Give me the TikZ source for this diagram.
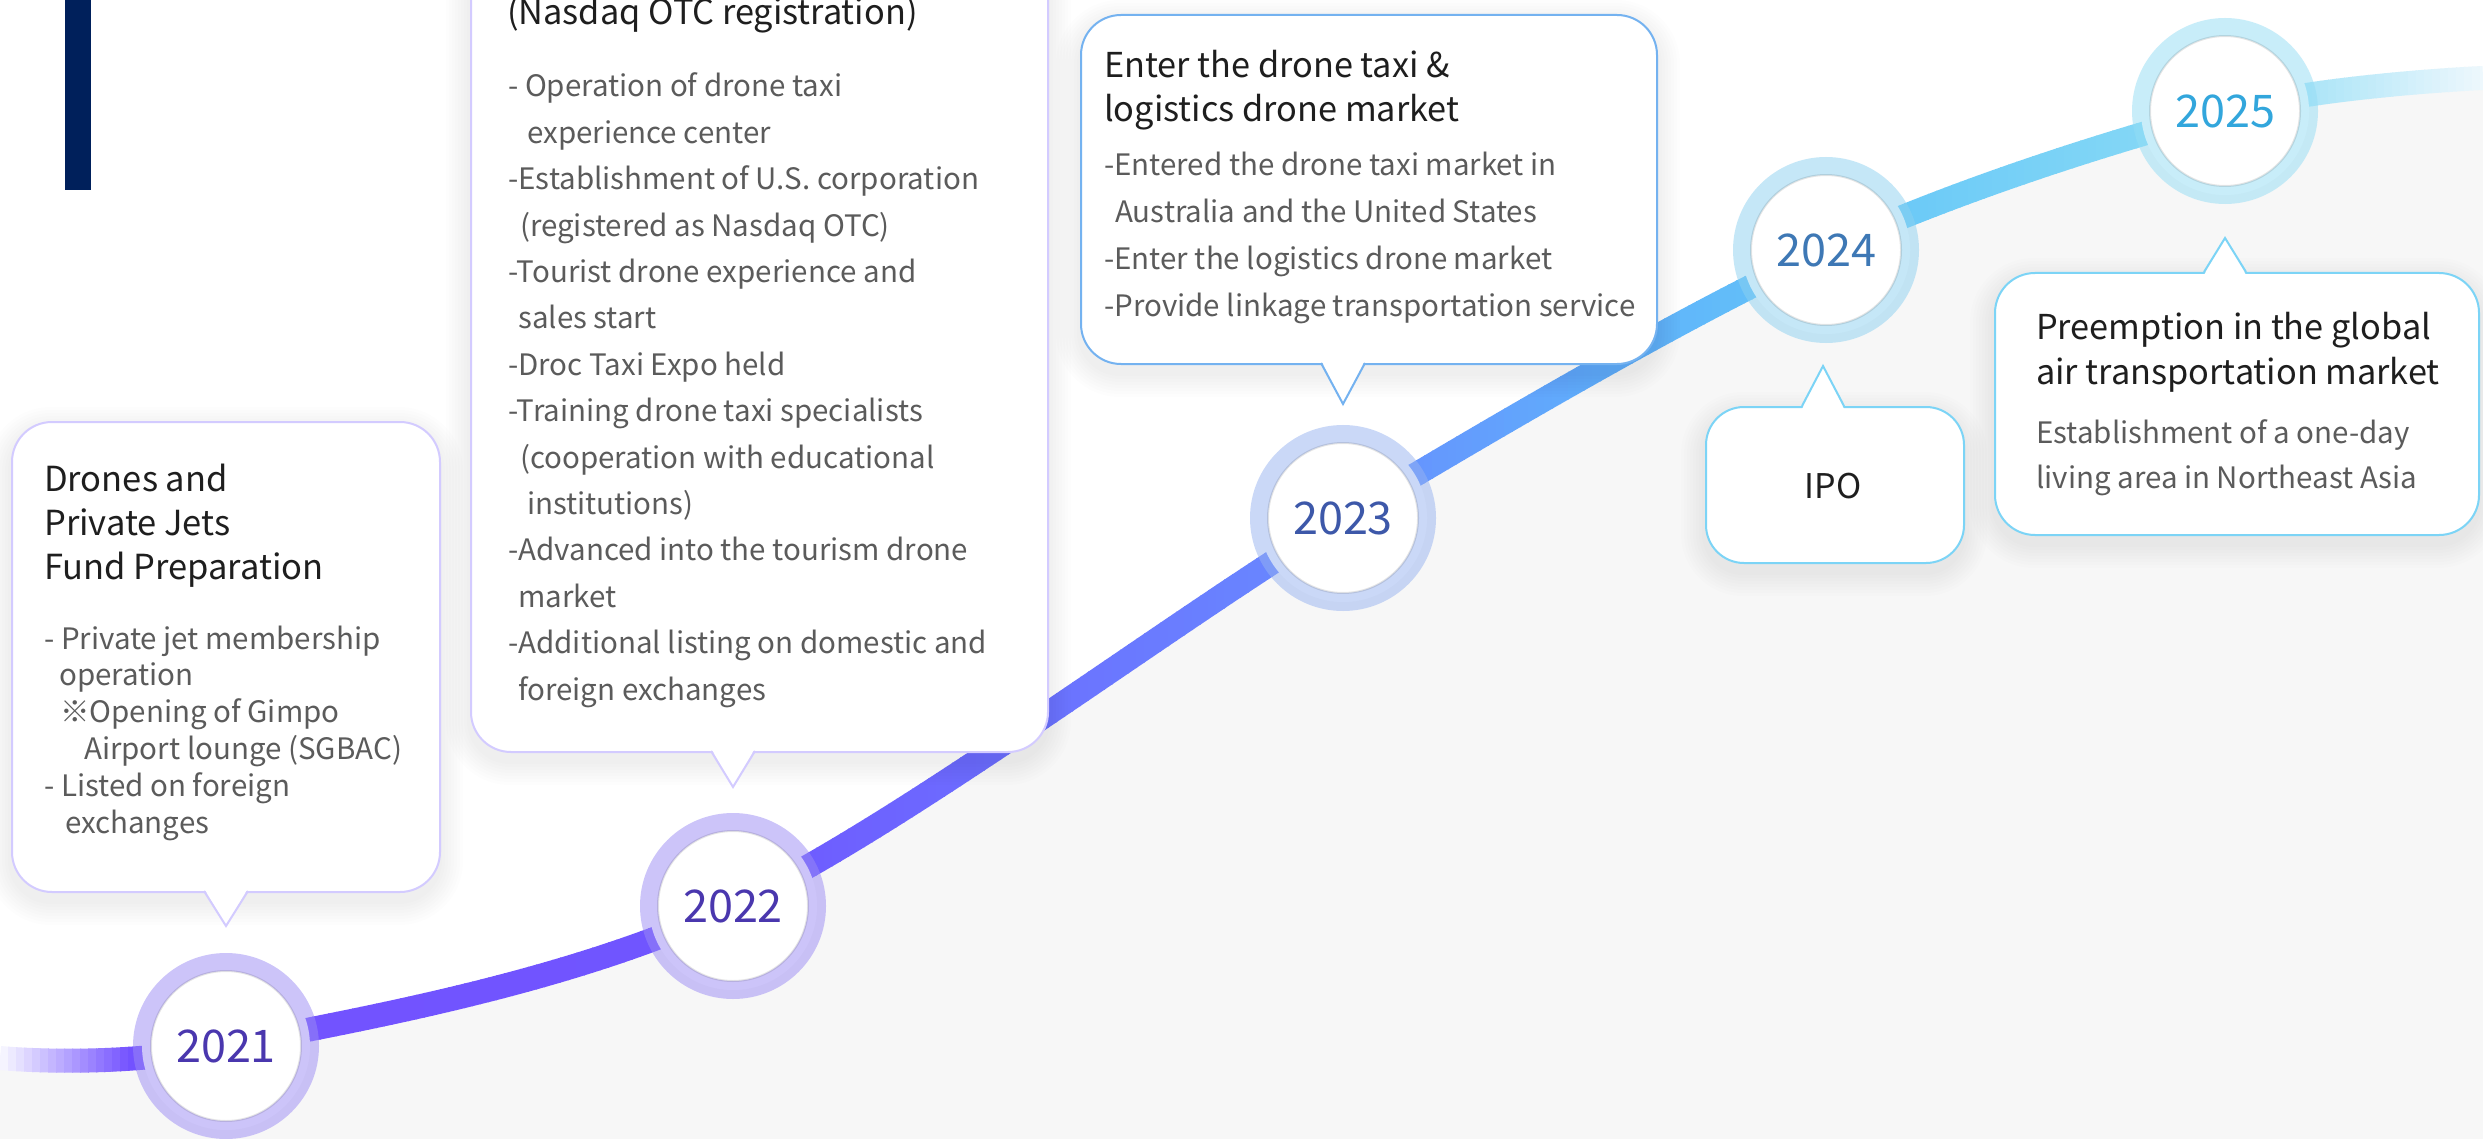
\documentclass[tikz,border=0pt]{standalone}
\usepackage{fontspec}
\setmainfont{Noto Sans CJK KR}
\definecolor{bggray}{HTML}{F7F7F7}
\definecolor{navy}{HTML}{00205B}
\definecolor{titlec}{HTML}{1E1E1E}
\definecolor{bodyc}{HTML}{5B5B5B}
\definecolor{bdA}{HTML}{D3CBFF}
\definecolor{bdB}{HTML}{74B2F0}
\definecolor{bdC}{HTML}{7CD4F6}
\definecolor{rgA}{RGB}{155,139,245}
\definecolor{rgB}{RGB}{151,179,241}
\definecolor{rgC}{RGB}{141,209,241}
\definecolor{rgD}{RGB}{147,221,245}
\definecolor{ytA}{HTML}{4A37AE}
\definecolor{ytB}{HTML}{3D58A9}
\definecolor{ytC}{HTML}{3E78B5}
\definecolor{ytD}{HTML}{32A6DC}
\definecolor{cc}{RGB}{116,82,255}
\newcommand\qqmix[8]{%
  \pgfmathsetmacro\qqt{(\qqx-#1)/(#2-#1)}%
  \pgfmathtruncatemacro\qqr{max(0,min(255,#3+(#6-#3)*\qqt))}%
  \pgfmathtruncatemacro\qqg{max(0,min(255,#4+(#7-#4)*\qqt))}%
  \pgfmathtruncatemacro\qqb{max(0,min(255,#5+(#8-#5)*\qqt))}%
  \definecolor{cc}{RGB}{\qqr,\qqg,\qqb}}
\newcommand\qqcolor{%
  \ifdim\qqx pt<130pt \qqmix{0}{130}{250}{250}{255}{116}{82}{255}%
  \else\ifdim\qqx pt<720pt \qqmix{130}{720}{116}{82}{255}{112}{86}{255}%
  \else\ifdim\qqx pt<1343pt \qqmix{720}{1343}{112}{86}{255}{104}{140}{255}%
  \else\ifdim\qqx pt<1600pt \qqmix{1343}{1600}{104}{140}{255}{96}{176}{252}%
  \else\ifdim\qqx pt<1826pt \qqmix{1600}{1826}{96}{176}{252}{100}{198}{248}%
  \else\ifdim\qqx pt<2225pt \qqmix{1826}{2225}{100}{198}{248}{140}{220}{246}%
  \else \qqmix{2225}{2483}{140}{220}{246}{238}{248}{253}%
  \fi\fi\fi\fi\fi\fi}
\newcommand\bshadow[5]{%
  \foreach \k in {3,6,...,24}{%
    \pgfmathsetmacro\qqrc{#5+\k}%
    \fill[black,opacity=0.009,rounded corners=\qqrc pt] (#1-\k,#2-\k+10) rectangle (#3+\k,#4+\k+10);}}
\tikzset{
  bubble/.style={rectangle, fill=white, line width=2pt, rounded corners=40pt, inner sep=0pt, anchor=north west},
  ttl/.style={anchor=base west, inner sep=0pt, text=titlec, font=\fontsize{34.3}{44}\selectfont},
  bdy/.style={anchor=base west, inner sep=0pt, text=bodyc, font=\fontsize{29.5}{46.4}\selectfont},
  yr/.style={circle, fill=white, line width=18pt, draw opacity=0.5, minimum size=168pt, inner sep=0pt, font=\fontsize{45}{45}\selectfont},
  tail/.style={line width=2pt, line join=miter}
}
\begin{document}
\begin{tikzpicture}[x=1pt,y=-1pt]
\useasboundingbox (0,0) rectangle (2483,1139);
\fill[white] (0,0) rectangle (2483,1139);
% gray area under the curve
\fill[bggray] plot[smooth,tension=0.55] coordinates {(0,1058) (226,1046) (733,906) (1343,518) (1826,250) (2225,111) (2483,78)} -- (2483,1139) -- (0,1139) -- cycle;
% navy bar
\fill[navy] (65,0) rectangle (91,190);
% timeline curve with a left-to-right colour gradient (drawn strip by strip)
\foreach \xs in {0,8,...,2480}{%
  \pgfmathsetmacro\qqx{\xs+4}%
  \qqcolor
  \begin{scope}
    \clip (\xs,0) rectangle (\xs+9,1139);
    \draw[cc, line width=24pt] plot[smooth,tension=0.55] coordinates {(0,1058) (226,1046) (733,906) (1343,518) (1826,250) (2225,111) (2483,78)};
  \end{scope}}

% ---- bubble 2021
\bshadow{11}{421}{439}{891}{40}
\node[bubble, draw=bdA, minimum width=428pt, minimum height=470pt] (b21) at (11,421) {};
\fill[white] (204,888) -- (226,926) -- (248,888) -- cycle;
\draw[tail, bdA] (204,891) -- (226,926) -- (248,891);
\node[ttl, font=\fontsize{34.5}{44}\selectfont] (t21) at (44,491) {\parbox[t]{400pt}{\raggedright Drones and\\Private Jets\\Fund Preparation}};
\node[bdy, font=\fontsize{29.5}{36.8}\selectfont] (d21) at (44,649) {\parbox[t]{400pt}{\raggedright
- Private jet membership\\
\hspace*{15pt}operation\\
\hspace*{16pt}※Opening of Gimpo\\
\hspace*{40pt}Airport lounge (SGBAC)\\
- Listed on foreign\\
\hspace*{21pt}exchanges}};

% ---- bubble 2022
\bshadow{470}{-60}{1047}{751}{40}
\node[bubble, draw=bdA, minimum width=577pt, minimum height=811pt] (b22) at (470,-60) {};
\fill[white] (711,748) -- (733,787) -- (755,748) -- cycle;
\draw[tail, bdA] (711,751) -- (733,787) -- (755,751);
\node[ttl] (t22) at (507,25) {(Nasdaq OTC registration)};
\node[bdy] (d22) at (508,97) {\parbox[t]{560pt}{\raggedright
- Operation of drone taxi\\
\hspace*{19pt}experience center\\
-Establishment of U.S. corporation\\
\hspace*{12pt}(registered as Nasdaq OTC)\\
-Tourist drone experience and\\
\hspace*{10pt}sales start\\
-Droc Taxi Expo held\\
-Training drone taxi specialists\\
\hspace*{12pt}(cooperation with educational\\
\hspace*{19pt}institutions)\\
-Advanced into the tourism drone\\
\hspace*{10pt}market\\
-Additional listing on domestic and\\
\hspace*{10pt}foreign exchanges}};

% ---- bubble 2023
\bshadow{1080}{14}{1656}{363}{40}
\node[bubble, draw=bdB, minimum width=576pt, minimum height=349pt] (b23) at (1080,14) {};
\fill[white] (1321,360) -- (1343,404) -- (1365,360) -- cycle;
\draw[tail, bdB] (1321,363) -- (1343,404) -- (1365,363);
\node[ttl] (t23) at (1104,78) {\parbox[t]{560pt}{\raggedright Enter the drone taxi \&\\logistics drone market}};
\node[bdy, font=\fontsize{29.5}{47}\selectfont] (d23) at (1104,176) {\parbox[t]{560pt}{\raggedright
-Entered the drone taxi market in\\
\hspace*{11pt}Australia and the United States\\
-Enter the logistics drone market\\
-Provide linkage transportation service}};

% ---- bubble IPO
\bshadow{1705}{406}{1963}{562}{38}
\node[bubble, draw=bdC, rounded corners=38pt, minimum width=258pt, minimum height=156pt] (b24) at (1705,406) {};
\fill[white] (1802,409) -- (1823,366) -- (1844,409) -- cycle;
\draw[tail, bdC] (1802,406) -- (1823,366) -- (1844,406);
\node[anchor=center, inner sep=0pt, text=titlec, font=\fontsize{34}{40}\selectfont] (t24) at (1833,486) {IPO};

% ---- bubble 2025
\bshadow{1994}{272}{2478}{534}{40}
\node[bubble, draw=bdC, minimum width=484pt, minimum height=262pt] (b25) at (1994,272) {};
\fill[white] (2204,275) -- (2225,238) -- (2246,275) -- cycle;
\draw[tail, bdC] (2204,272) -- (2225,238) -- (2246,272);
\node[ttl, font=\fontsize{34.3}{45}\selectfont] (t25) at (2036,340) {\parbox[t]{440pt}{\raggedright Preemption in the global\\air transportation market}};
\node[bdy, font=\fontsize{29.5}{45}\selectfont] (d25) at (2036,443) {\parbox[t]{440pt}{\raggedright Establishment of a one-day\\living area in Northeast Asia}};

% ---- year circles
\node[yr, draw=rgA, text=ytA] (n21) at (226,1046) {2021};
\node[yr, draw=rgA, text=ytA] (n22) at (733,906) {2022};
\node[yr, draw=rgB, text=ytB] (n23) at (1343,518) {2023};
\node[yr, draw=rgC, text=ytC] (n24) at (1826,250) {2024};
\node[yr, draw=rgD, text=ytD] (n25) at (2225,111) {2025};
\foreach \n in {n21,n22,n23,n24,n25}{\draw[black, opacity=0.10, line width=2pt] (\n.center) circle (75pt);}
\end{tikzpicture}
\end{document}
